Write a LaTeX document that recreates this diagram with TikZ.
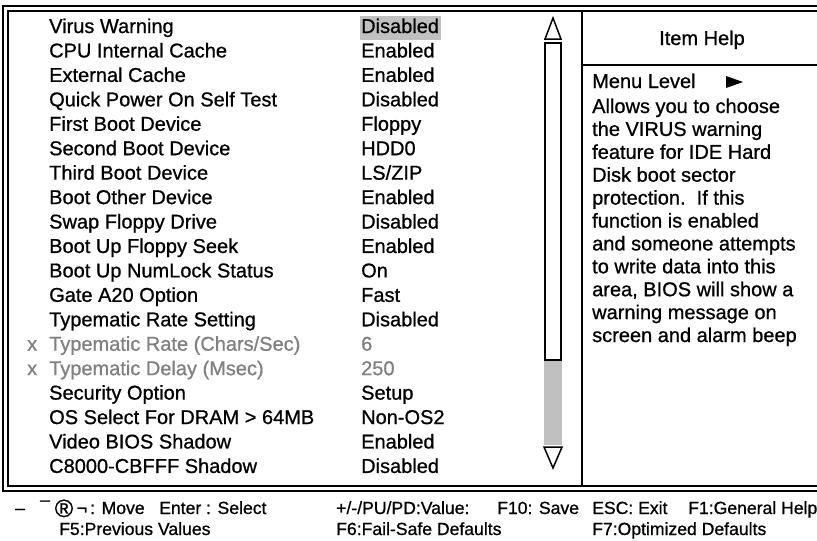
\documentclass[tikz,border=0pt]{standalone}
\usepackage{fontspec}
\setmainfont{Liberation Sans}
\newfontfamily\uifont{Liberation Sans}[FakeBold=0.8]
\definecolor{barfill}{RGB}{192,192,192}
\definecolor{dimtext}{RGB}{128,128,128}
\tikzset{
  frame/.style={line width=2pt},
  item/.style={anchor=base west, inner sep=0pt, font=\uifont\fontsize{20}{21}\selectfont},
  dim/.style={item, text=dimtext},
  helptext/.style={item},
  keys/.style={anchor=base west, inner sep=0pt, font=\uifont\fontsize{17.6}{18}\selectfont},
}
% baseline of setup row #1 and of help line #1
\def\rowy#1{33+24.44*#1}
\def\helpy#1{113+22.9*#1}
\begin{document}
\begin{tikzpicture}[x=1pt,y=-1pt]
\useasboundingbox (0,0) rectangle (817,541);
\fill[white] (0,0) rectangle (817,541);

% double outer frame, open to the right
\draw[frame] (822,6) -- (3,6) -- (3,491) -- (822,491);
\draw[frame] (822,11) -- (8,11) -- (8,486) -- (822,486);
% help panel divider and header rule
\draw[frame] (582,11) -- (582,486);
\draw[frame] (582,65) -- (822,65);

% selection highlight
\fill[barfill] (360,16) rectangle (441,40);

% setup items
\node[item] (l0)  at (49,\rowy{0})  {Virus Warning};
\node[item] (l1)  at (49,\rowy{1})  {CPU Internal Cache};
\node[item] (l2)  at (49,\rowy{2})  {External Cache};
\node[item] (l3)  at (49,\rowy{3})  {Quick Power On Self Test};
\node[item] (l4)  at (49,\rowy{4})  {First Boot Device};
\node[item] (l5)  at (49,\rowy{5})  {Second Boot Device};
\node[item] (l6)  at (49,\rowy{6})  {Third Boot Device};
\node[item] (l7)  at (49,\rowy{7})  {Boot Other Device};
\node[item] (l8)  at (49,\rowy{8})  {Swap Floppy Drive};
\node[item] (l9)  at (49,\rowy{9})  {Boot Up Floppy Seek};
\node[item] (l10) at (49,\rowy{10}) {Boot Up NumLock Status};
\node[item] (l11) at (49,\rowy{11}) {Gate A20 Option};
\node[item] (l12) at (49,\rowy{12}) {Typematic Rate Setting};
\node[dim]  (x13) at (27,\rowy{13}) {x};
\node[dim]  (l13) at (49,\rowy{13}) {Typematic Rate (Chars/Sec)};
\node[dim]  (x14) at (27,\rowy{14}) {x};
\node[dim]  (l14) at (49,\rowy{14}) {Typematic Delay (Msec)};
\node[item] (l15) at (49,\rowy{15}) {Security Option};
\node[item] (l16) at (49,\rowy{16}) {OS Select For DRAM > 64MB};
\node[item] (l17) at (49,\rowy{17}) {Video BIOS Shadow};
\node[item] (l18) at (49,\rowy{18}) {C8000-CBFFF Shadow};

% values
\node[item] (v0)  at (361,\rowy{0})  {Disabled};
\node[item] (v1)  at (361,\rowy{1})  {Enabled};
\node[item] (v2)  at (361,\rowy{2})  {Enabled};
\node[item] (v3)  at (361,\rowy{3})  {Disabled};
\node[item] (v4)  at (361,\rowy{4})  {Floppy};
\node[item] (v5)  at (361,\rowy{5})  {HDD0};
\node[item] (v6)  at (361,\rowy{6})  {LS/ZIP};
\node[item] (v7)  at (361,\rowy{7})  {Enabled};
\node[item] (v8)  at (361,\rowy{8})  {Disabled};
\node[item] (v9)  at (361,\rowy{9})  {Enabled};
\node[item] (v10) at (361,\rowy{10}) {On};
\node[item] (v11) at (361,\rowy{11}) {Fast};
\node[item] (v12) at (361,\rowy{12}) {Disabled};
\node[dim]  (v13) at (361,\rowy{13}) {6};
\node[dim]  (v14) at (361,\rowy{14}) {250};
\node[item] (v15) at (361,\rowy{15}) {Setup};
\node[item] (v16) at (361,\rowy{16}) {Non-OS2};
\node[item] (v17) at (361,\rowy{17}) {Enabled};
\node[item] (v18) at (361,\rowy{18}) {Disabled};

% scroll bar
\draw[line width=1.5pt] (553,18) -- (545,39) -- (561,39) -- cycle;
\draw[line width=2pt, fill=white] (545,43) rectangle (561,360);
\fill[barfill] (544,361) rectangle (562,445);
\draw[line width=1.5pt] (544,447) -- (562,447) -- (553,468) -- cycle;

% help panel
\node[item, anchor=base] (ih) at (702,45) {Item Help};
\node[item] (ml) at (592,88) {Menu Level};
\fill (726,76) -- (743,82) -- (726,88) -- cycle;
\node[helptext] (h0)  at (592,\helpy{0})  {Allows you to choose};
\node[helptext] (h1)  at (592,\helpy{1})  {the VIRUS warning};
\node[helptext] (h2)  at (592,\helpy{2})  {feature for IDE Hard};
\node[helptext] (h3)  at (592,\helpy{3})  {Disk boot sector};
\node[helptext] (h4)  at (592,\helpy{4})  {protection.\ \ If this};
\node[helptext] (h5)  at (592,\helpy{5})  {function is enabled};
\node[helptext] (h6)  at (592,\helpy{6})  {and someone attempts};
\node[helptext] (h7)  at (592,\helpy{7})  {to write data into this};
\node[helptext] (h8)  at (592,\helpy{8})  {area, BIOS will show a};
\node[helptext] (h9)  at (592,\helpy{9})  {warning message on};
\node[helptext] (h10) at (592,\helpy{10}) {screen and alarm beep};

% key legend
\node[keys] (k1) at (15,514) {–};
\node[keys] (k2) at (40,514) {¯};
\node[keys, anchor=base, font=\uifont\fontsize{25}{25}\selectfont] (k3) at (64,517) {®};
\node[keys, anchor=base] (k4) at (82,514) {¬};
\node[keys] (k5) at (90,514) {: Move};
\node[keys] (k6) at (159,514) {Enter : Select};
\node[keys] (k7) at (336,514) {+/-/PU/PD:Value:};
\node[keys] (k8) at (497,514) {F10: Save};
\node[keys] (k9) at (592,514) {ESC: Exit};
\node[keys] (k10) at (688,514) {F1:General Help};
\node[keys] (k11) at (59,535) {F5:Previous Values};
\node[keys] (k12) at (336,535) {F6:Fail-Safe Defaults};
\node[keys] (k13) at (592,535) {F7:Optimized Defaults};
\end{tikzpicture}
\end{document}
